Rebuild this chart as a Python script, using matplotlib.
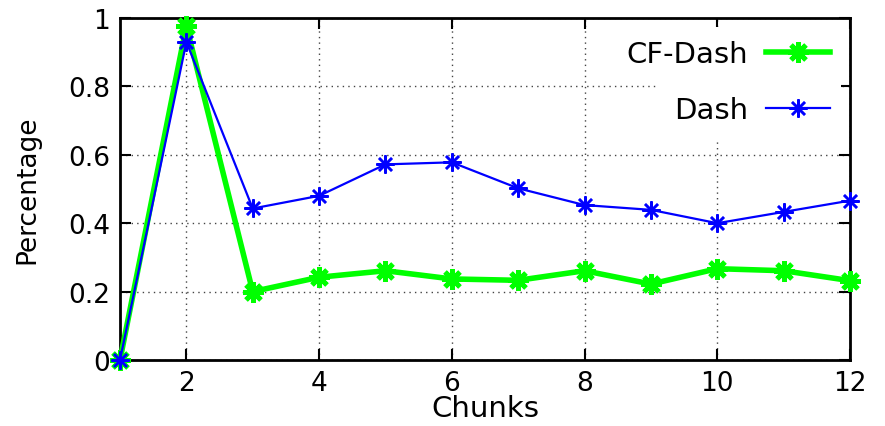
import matplotlib
matplotlib.use('Agg')
import matplotlib.pyplot as plt
from matplotlib.patches import Rectangle

# chunks and share of segments per chunk
chunks = [1, 2, 3, 4, 5, 6, 7, 8, 9, 10, 11, 12]
cf_dash = [0.0, 0.977, 0.200, 0.242, 0.261, 0.237, 0.233, 0.261, 0.222, 0.267, 0.261, 0.232]
dash = [0.0, 0.930, 0.443, 0.480, 0.572, 0.578, 0.502, 0.453, 0.439, 0.400, 0.433, 0.466]

x_ticks = [2, 4, 6, 8, 10, 12]
y_ticks = [0, 0.2, 0.4, 0.6, 0.8, 1.0]
y_labels = ['0', '0.2', '0.4', '0.6', '0.8', '1']

plt.rcParams['font.family'] = 'DejaVu Sans'
fig = plt.figure(figsize=(8.85, 4.27), dpi=100)
ax = fig.add_axes([120/885, 1 - 361/427, 730/885, 342/427])

star = (8, 2, 0)  # gnuplot style asterisk
ax.plot(chunks, cf_dash, color='#00ff00', lw=4, marker=star, ms=15, mew=3.5,
        label='CF-Dash', clip_on=False, zorder=3)
ax.plot(chunks, dash, color='#0000ff', lw=1.6, marker=star, ms=13, mew=1.8,
        label='Dash', clip_on=False, zorder=4)

ax.set_xlim(1, 12)
ax.set_ylim(0, 1)
ax.set_xticks(x_ticks)
ax.set_yticks(y_ticks)
ax.set_yticklabels(y_labels)
ax.tick_params(direction='in', length=8, width=1.5, top=True, right=True,
               labelsize=19, pad=7)
ax.grid(True, linestyle=(0, (1, 3)), color='#444444', lw=1)
for s in ax.spines.values():
    s.set_linewidth(2)

ax.set_xlabel('Chunks', fontsize=21, labelpad=-1)
ax.set_ylabel('Percentage', fontsize=19, labelpad=20)

# opaque key area (hides the grid, keeps the border ticks)
ax.add_patch(Rectangle((0.7356, 0.646), 1 - 9/730 - 0.7356, 1 - 9/342 - 0.646,
                       transform=ax.transAxes, facecolor='white', edgecolor='none',
                       zorder=2))

leg = ax.legend(loc='upper right', markerfirst=False, frameon=False, fontsize=21,
                handlelength=2.2, handletextpad=0.6, borderaxespad=0, borderpad=0,
                labelspacing=0.95, bbox_to_anchor=(0.9726, 0.935))

fig.savefig('out.png', dpi=100)
